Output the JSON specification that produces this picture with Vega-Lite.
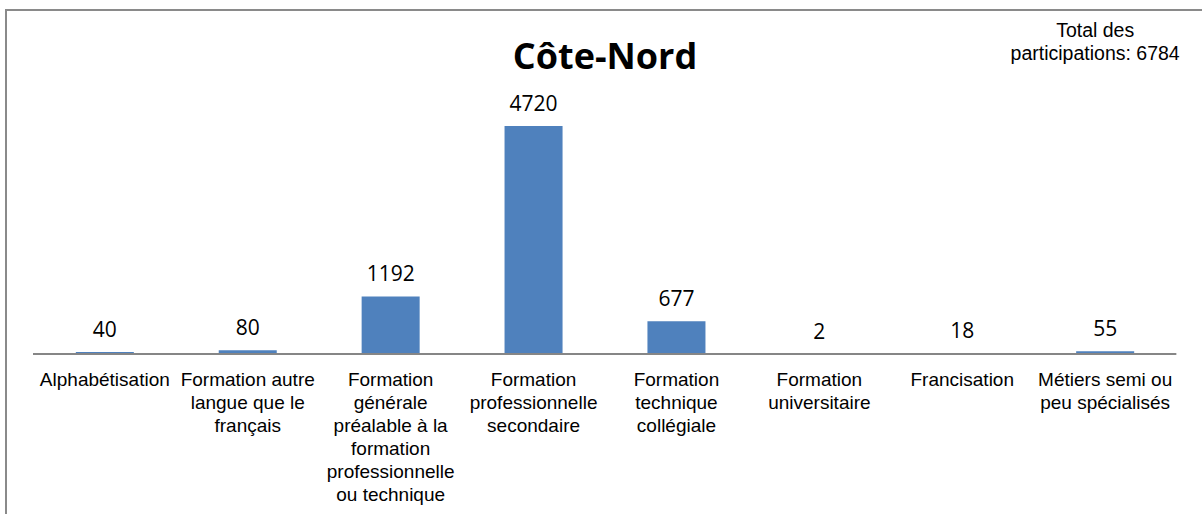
{
  "$schema": "https://vega.github.io/schema/vega-lite/v6.json",
  "autosize": "none",
  "padding": {"left": 6, "top": 10, "right": 0, "bottom": 0},
  "width": 1198,
  "height": 520,
  "background": "white",
  "title": {
    "text": "Côte-Nord",
    "font": "Open Sans",
    "fontSize": 36,
    "fontWeight": "bold",
    "color": "black",
    "anchor": "middle",
    "frame": "group",
    "baseline": "alphabetic",
    "offset": -62,
    "dy": 33
  },
  "config": {
    "view": {"stroke": "#8a8a8a", "strokeWidth": 2}
  },
  "datasets": {
    "participations": [
      {"categorie": "Alphabétisation", "participations": 40},
      {"categorie": "Formation autre langue que le français", "participations": 80},
      {"categorie": "Formation générale préalable à la formation professionnelle ou technique", "participations": 1192},
      {"categorie": "Formation professionnelle secondaire", "participations": 4720},
      {"categorie": "Formation technique collégiale", "participations": 677},
      {"categorie": "Formation universitaire", "participations": 2},
      {"categorie": "Francisation", "participations": 18},
      {"categorie": "Métiers semi ou peu spécialisés", "participations": 55}
    ],
    "total": [
      {"categorie": "Métiers semi ou peu spécialisés", "position": 6569, "texte": "Total des\nparticipations: 6784"}
    ]
  },
  "data": {"name": "participations"},
  "encoding": {
    "x": {
      "field": "categorie",
      "type": "nominal",
      "sort": null,
      "scale": {"paddingInner": 0.594, "paddingOuter": 0.4886},
      "axis": {
        "title": null,
        "orient": "bottom",
        "offset": -176,
        "domain": false,
        "ticks": false,
        "labelAngle": 0,
        "labelPadding": 16,
        "labelBaseline": "top",
        "labelFont": "Liberation Sans",
        "labelFontSize": 19,
        "labelLineHeight": 23,
        "labelColor": "black",
        "labelLimit": 0,
        "labelOverlap": false,
        "labelExpr": "{'Alphabétisation': ['Alphabétisation'], 'Formation autre langue que le français': ['Formation autre', 'langue que le', 'français'], 'Formation générale préalable à la formation professionnelle ou technique': ['Formation', 'générale', 'préalable à la', 'formation', 'professionnelle', 'ou technique'], 'Formation professionnelle secondaire': ['Formation', 'professionnelle', 'secondaire'], 'Formation technique collégiale': ['Formation', 'technique', 'collégiale'], 'Formation universitaire': ['Formation', 'universitaire'], 'Francisation': ['Francisation'], 'Métiers semi ou peu spécialisés': ['Métiers semi ou', 'peu spécialisés']}[datum.value]"
      }
    }
  },
  "layer": [
    {
      "mark": {"type": "bar", "color": "#4F81BD"},
      "encoding": {
        "y": {
          "field": "participations",
          "type": "quantitative",
          "scale": {"domain": [-3643.5, 7121.4], "nice": false, "zero": false},
          "axis": null
        }
      }
    },
    {
      "mark": {"type": "text", "font": "Open Sans", "fontSize": 21, "color": "black", "baseline": "alphabetic", "dy": -15},
      "encoding": {
        "y": {"field": "participations", "type": "quantitative"},
        "text": {"field": "participations", "type": "quantitative", "format": "d"}
      }
    },
    {
      "mark": {"type": "rule", "color": "#868686", "strokeWidth": 1.5},
      "encoding": {
        "y": {"datum": 0, "type": "quantitative"},
        "x": {"datum": "Alphabétisation", "type": "nominal", "bandPosition": -0.738},
        "x2": {"datum": "Métiers semi ou peu spécialisés", "bandPosition": 1.722}
      }
    },
    {
      "data": {"name": "total"},
      "mark": {"type": "text", "font": "Liberation Sans", "fontSize": 19.5, "lineHeight": 23.3, "lineBreak": "\n", "color": "black", "align": "center", "baseline": "alphabetic", "dx": -10},
      "encoding": {
        "y": {"field": "position", "type": "quantitative"},
        "text": {"field": "texte", "type": "nominal"}
      }
    }
  ]
}
